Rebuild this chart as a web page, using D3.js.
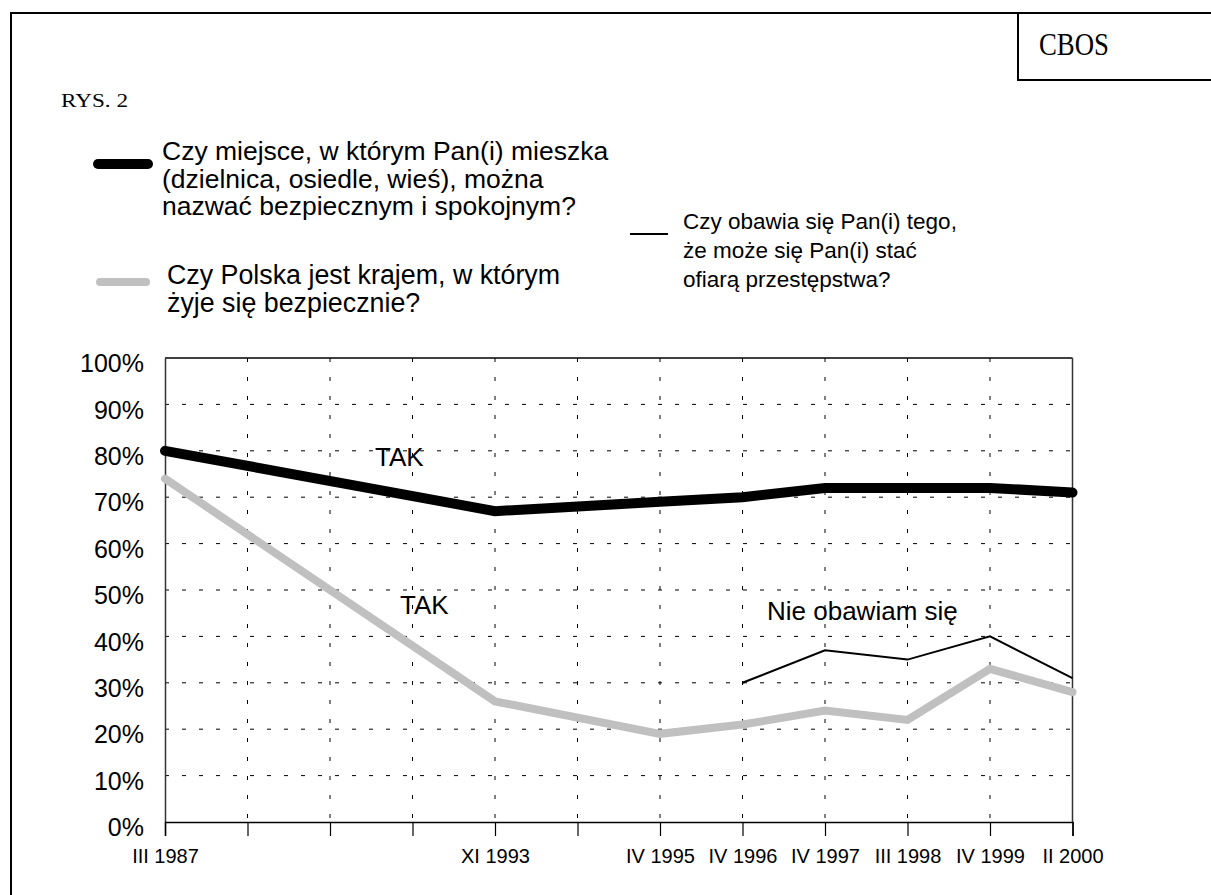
<!DOCTYPE html>
<html>
<head>
<meta charset="utf-8">
<script src="https://cdn.jsdelivr.net/npm/d3@7"></script>
<style>
  html, body { margin: 0; padding: 0; background: #fff; }
  svg { display: block; }
  text { font-family: "Liberation Sans", Arial, sans-serif; fill: #000; }
  .serif { font-family: "Liberation Serif", "Times New Roman", serif; }
</style>
</head>
<body>
<svg id="chart" width="1211" height="895"></svg>
<script>
// ---- data ----
const tickLabels = ["III 1987", "", "", "", "XI 1993", "", "IV 1995", "IV 1996", "IV 1997", "III 1998", "IV 1999", "II 2000"];
const placeSafe  = [80, null, null, null, 67, null, 69, 70, 72, 72, 72, 71];   // thick black
const polandSafe = [74, null, null, null, 26, null, 19, 21, 24, 22, 33, 28];   // gray
const notAfraid  = [null, null, null, null, null, null, null, 30, 37, 35, 40, 31]; // thin black
const yTicks = [0, 10, 20, 30, 40, 50, 60, 70, 80, 90, 100];

const legend1 = ["Czy miejsce, w którym Pan(i) mieszka", "(dzielnica, osiedle, wieś), można", "nazwać bezpiecznym i spokojnym?"];
const legend2 = ["Czy Polska jest krajem, w którym", "żyje się bezpiecznie?"];
const legend3 = ["Czy obawia się Pan(i) tego,", "że może się Pan(i) stać", "ofiarą przestępstwa?"];

// ---- layout ----
const svg = d3.select("#chart");
const L = 165, R = 1072.5, T = 358, B = 822;

const x = d3.scalePoint().domain(d3.range(tickLabels.length)).range([L, R]);
const y = d3.scaleLinear().domain([0, 100]).range([B, T]);

// outer frame
svg.append("rect").attr("x", 11).attr("y", 13).attr("width", 1230).attr("height", 920)
  .attr("fill", "none").attr("stroke", "#000").attr("stroke-width", 2);
// CBOS box
svg.append("rect").attr("x", 1018).attr("y", 13).attr("width", 220).attr("height", 67)
  .attr("fill", "none").attr("stroke", "#000").attr("stroke-width", 2);
svg.append("text").attr("class", "serif").attr("x", 1039).attr("y", 55)
  .style("font-size", "31px").attr("textLength", 70).attr("lengthAdjust", "spacingAndGlyphs").text("CBOS");
svg.append("text").attr("class", "serif").attr("x", 61).attr("y", 107)
  .style("font-size", "19px").attr("textLength", 67).attr("lengthAdjust", "spacingAndGlyphs").text("RYS. 2");

// legends
svg.append("line").attr("x1", 98).attr("x2", 148).attr("y1", 164).attr("y2", 164)
  .attr("stroke", "#000").attr("stroke-width", 10).attr("stroke-linecap", "round");
legend1.forEach((t, i) => svg.append("text").attr("x", 162).attr("y", 160 + i * 27.5)
  .style("font-size", "26.5px").text(t));

svg.append("line").attr("x1", 100).attr("x2", 146).attr("y1", 282).attr("y2", 282)
  .attr("stroke", "#c0c0c0").attr("stroke-width", 8).attr("stroke-linecap", "round");
legend2.forEach((t, i) => svg.append("text").attr("x", 167).attr("y", 284 + i * 28)
  .style("font-size", "26.8px").text(t));

svg.append("line").attr("x1", 630).attr("x2", 668).attr("y1", 234).attr("y2", 234)
  .attr("stroke", "#000").attr("stroke-width", 2);
legend3.forEach((t, i) => svg.append("text").attr("x", 683).attr("y", 229 + i * 29)
  .style("font-size", "22.5px").text(t));

// grid
const grid = svg.append("g");
grid.selectAll("line.h").data(yTicks.filter(v => v > 0 && v < 100)).join("line")
  .attr("x1", L).attr("x2", R).attr("y1", d => y(d)).attr("y2", d => y(d))
  .attr("stroke", "#000").attr("stroke-width", 1).attr("stroke-dasharray", "4,13");
grid.selectAll("line.v").data(d3.range(1, tickLabels.length - 1)).join("line")
  .attr("x1", d => x(d)).attr("x2", d => x(d)).attr("y1", T).attr("y2", B)
  .attr("stroke", "#000").attr("stroke-width", 1).attr("stroke-dasharray", "4,15");
// top & right border
svg.append("line").attr("x1", L).attr("x2", R).attr("y1", y(100)).attr("y2", y(100))
  .attr("stroke", "#000").attr("stroke-width", 1.5);
svg.append("line").attr("x1", R).attr("x2", R).attr("y1", T).attr("y2", B)
  .attr("stroke", "#333").attr("stroke-width", 1.5);

// axes
const yAxis = svg.append("g").attr("transform", `translate(${L},0)`)
  .call(d3.axisLeft(y).tickValues(yTicks).tickSize(0).tickPadding(21).tickFormat(d => d + "%"));
yAxis.select(".domain").attr("stroke", "#333").attr("stroke-width", 1.5);
yAxis.selectAll("text").style("font-size", "25px").attr("dy", "0.55em")
  .style("font-family", "Liberation Sans, Arial, sans-serif");

const xAxis = svg.append("g").attr("transform", `translate(0,${B})`)
  .call(d3.axisBottom(x).tickSize(14).tickPadding(13).tickFormat(i => tickLabels[i]));
xAxis.select(".domain").attr("stroke", "#000").attr("stroke-width", 1.5);
xAxis.selectAll(".tick line").attr("stroke", "#000").attr("stroke-width", 1.2);
xAxis.selectAll("text").style("font-size", "20px")
  .style("font-family", "Liberation Sans, Arial, sans-serif");

// series
const toPts = arr => arr.map((v, i) => ({ i, v })).filter(d => d.v != null);
const line = d3.line().x(d => x(d.i)).y(d => y(d.v));

svg.append("path").datum(toPts(polandSafe)).attr("d", line)
  .attr("fill", "none").attr("stroke", "#c0c0c0").attr("stroke-width", 8)
  .attr("stroke-linecap", "round").attr("stroke-linejoin", "miter");
svg.append("path").datum(toPts(notAfraid)).attr("d", line)
  .attr("fill", "none").attr("stroke", "#000").attr("stroke-width", 2);
svg.append("path").datum(toPts(placeSafe)).attr("d", line)
  .attr("fill", "none").attr("stroke", "#000").attr("stroke-width", 10)
  .attr("stroke-linecap", "round").attr("stroke-linejoin", "miter");

// annotations
svg.append("text").attr("x", 375).attr("y", 466).style("font-size", "26px").text("TAK");
svg.append("text").attr("x", 400).attr("y", 614).style("font-size", "26px").text("TAK");
svg.append("text").attr("x", 767).attr("y", 620).style("font-size", "26px").text("Nie obawiam się");
</script>
</body>
</html>
